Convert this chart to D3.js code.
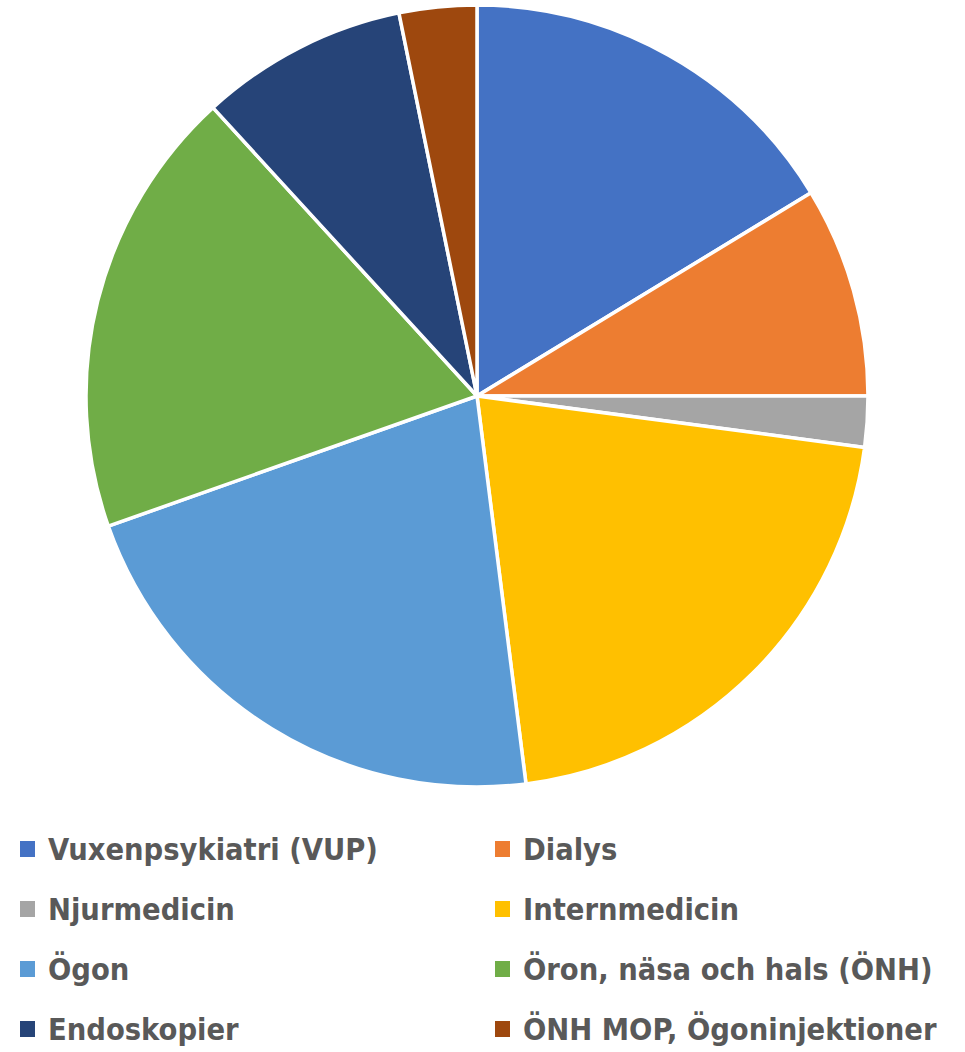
<!DOCTYPE html>
<html>
<head>
<meta charset="utf-8">
<script src="https://cdn.jsdelivr.net/npm/d3@7"></script>
<style>
  html, body { margin: 0; padding: 0; background: #fff; }
</style>
</head>
<body>
<div id="chart"></div>
<script>
const categories = ["Vuxenpsykiatri (VUP)", "Dialys", "Njurmedicin", "Internmedicin",
  "Ögon", "Öron, näsa och hals (ÖNH)", "Endoskopier", "ÖNH MOP, Ögoninjektioner"];
const values = [16.3, 8.7, 2.1, 20.9, 21.6, 18.6, 8.6, 3.2];
const colors = ["#4472C4", "#ED7D31", "#A5A5A5", "#FFC000", "#5B9BD5", "#70AD47", "#264478", "#9E480E"];

const width = 965;
const height = 1052;
const cx = 477, cy = 396, radius = 391;

const svg = d3.select("#chart")
  .append("svg")
  .attr("width", width)
  .attr("height", height)
  .attr("viewBox", [0, 0, width, height]);

const pie = d3.pie().sort(null).value(d => d);
const arc = d3.arc().innerRadius(0).outerRadius(radius);

svg.append("g")
  .attr("transform", `translate(${cx},${cy})`)
  .selectAll("path")
  .data(pie(values))
  .join("path")
  .attr("d", arc)
  .attr("fill", (d, i) => colors[i])
  .attr("stroke", "#fff")
  .attr("stroke-width", 3.5)
  .attr("stroke-linejoin", "round");

// legend, two columns
const colX = [20, 495];
const rowY = [849, 909, 969, 1029];
const font = "'DejaVu Sans Condensed', 'Liberation Sans Narrow', sans-serif";

const legend = svg.append("g")
  .selectAll("g")
  .data(categories)
  .join("g")
  .attr("transform", (d, i) => `translate(${colX[i % 2]},${rowY[Math.floor(i / 2)]})`);

legend.append("rect")
  .attr("x", 0)
  .attr("y", -8)
  .attr("width", 15)
  .attr("height", 16)
  .attr("fill", (d, i) => colors[i]);

const labels = legend.append("text")
  .attr("x", 28)
  .attr("y", 0)
  .attr("dy", "0.36em")
  .attr("fill", "#595959")
  .attr("font-family", font)
  .attr("font-weight", "bold")
  .attr("font-size", 30)
  .text(d => d);

// scale font so first label spans roughly as in the reference
const w0 = labels.node().getComputedTextLength();
const fs = 30 * 330 / w0;
labels.attr("font-size", fs);
</script>
</body>
</html>
